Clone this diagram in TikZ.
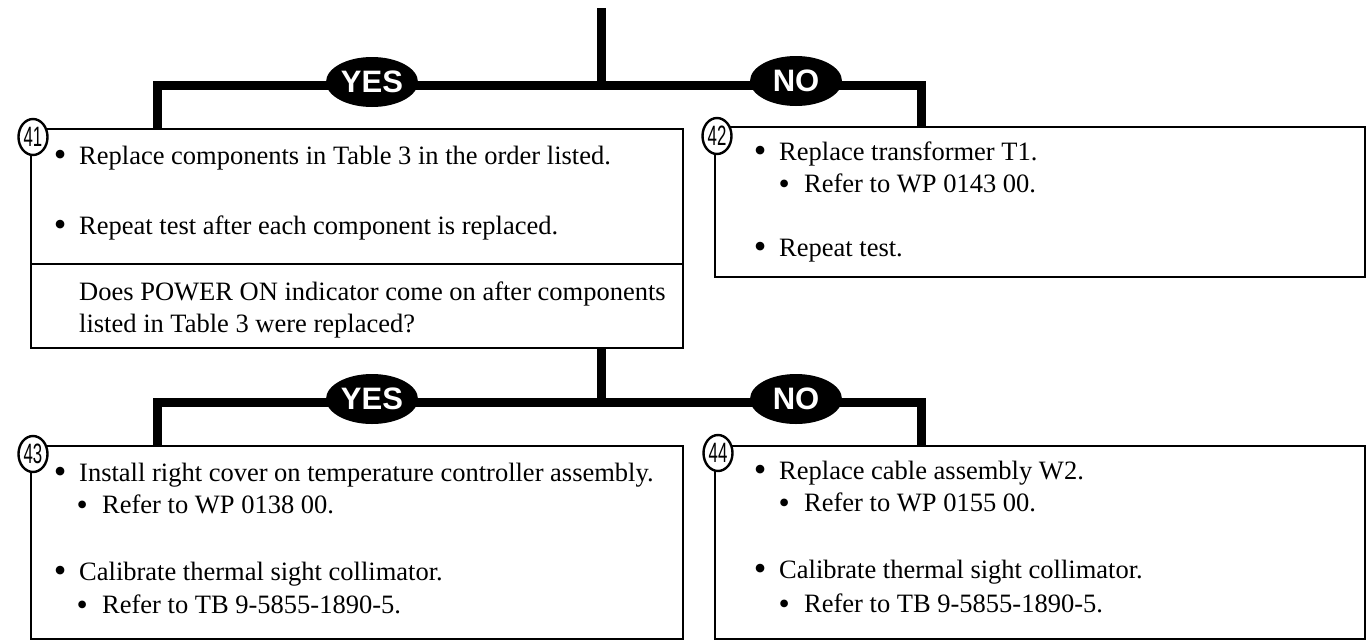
\documentclass[tikz,border=0pt]{standalone}
\usepackage{fontspec}
\setmainfont{Liberation Serif}
\newfontfamily\labelfont{Liberation Sans}
\newfontfamily\numfont[FakeStretch=0.6]{Liberation Sans}
\usetikzlibrary{shapes.geometric,calc}
\newcommand{\itembul}{\makebox[25.3pt][l]{\raisebox{-2.5pt}{\fontsize{36}{36}\selectfont\textbullet}}}
\newcommand{\subbul}{\makebox[25.6pt][l]{\raisebox{-2pt}{\fontsize{32}{32}\selectfont\textbullet}}}

\begin{document}
\begin{tikzpicture}[x=1pt, y=-1pt,
  every node/.style={font=\fontsize{26.5}{31}\selectfont},
  box/.style={draw, line width=2.4pt, fill=white, anchor=north west, inner sep=0pt, outer sep=0pt},
  txt/.style={anchor=base west, inner sep=0pt},
  flow/.style={line width=9pt},
  answer/.style={ellipse, fill=black, text=white, minimum width=92pt, minimum height=50pt, inner sep=0pt, font=\labelfont\bfseries\fontsize{31}{31}\selectfont},
  stepnum/.style={ellipse, draw, line width=2.4pt, fill=white, minimum width=29pt, minimum height=36pt, inner sep=0pt, font=\numfont\fontsize{28}{28}\selectfont}]
  \useasboundingbox (0,0) rectangle (1369,641);

  % step boxes
  \node[box, minimum width=652pt, minimum height=135pt] (b41) at (31,129) {};
  \node[box, minimum width=652pt, minimum height=84pt] (q41) at (31,264) {};
  \node[box, minimum width=650pt, minimum height=150pt] (b42) at (715,127) {};
  \node[box, minimum width=652pt, minimum height=193pt] (b43) at (31,446) {};
  \node[box, minimum width=650pt, minimum height=193pt] (b44) at (715,446) {};

  % flow lines
  \coordinate (start) at (601,8);
  \coordinate (j1) at (601,85);
  \coordinate (j2) at (601,402);
  \draw[flow] (start) -- (j1);
  \draw[flow] (j1) -| ($(b41.north west)+(126,0)$);
  \draw[flow] (j1) -| ($(b42.north west)+(206,0)$);
  \draw[flow] ($(q41.south west)+(570,0)$) -- (j2);
  \draw[flow] (j2) -| ($(b43.north west)+(126,0)$);
  \draw[flow] (j2) -| ($(b44.north west)+(206,0)$);

  % answers
  \node[answer] (yes1) at (372,82) {YES};
  \node[answer] (no1) at (796,81) {NO};
  \node[answer] (yes2) at (372,399) {YES};
  \node[answer] (no2) at (796,399) {NO};

  % step 41
  \node[txt] (t41a) at (53.7,164) {\itembul Replace components in Table 3 in the order listed.};
  \node[txt] (t41b) at (53.7,234) {\itembul Repeat test after each component is replaced.};
  \node[txt] (t41c) at (79,300) {Does POWER ON indicator come on after components};
  \node[txt] (t41d) at (79,332) {listed in Table 3 were replaced?};

  % step 42
  \node[txt] (t42a) at (753.7,160) {\itembul Replace transformer T1.};
  \node[txt] (t42b) at (778.4,192) {\subbul Refer to WP 0143 00.};
  \node[txt] (t42c) at (753.7,256) {\itembul Repeat test.};

  % step 43
  \node[txt] (t43a) at (53.7,481) {\itembul Install right cover on temperature controller assembly.};
  \node[txt] (t43b) at (76.4,513) {\subbul Refer to WP 0138 00.};
  \node[txt] (t43c) at (53.7,580) {\itembul Calibrate thermal sight collimator.};
  \node[txt] (t43d) at (76.4,613) {\subbul Refer to TB 9-5855-1890-5.};

  % step 44
  \node[txt] (t44a) at (753.7,479) {\itembul Replace cable assembly W2.};
  \node[txt] (t44b) at (778.4,511) {\subbul Refer to WP 0155 00.};
  \node[txt] (t44c) at (753.7,578) {\itembul Calibrate thermal sight collimator.};
  \node[txt] (t44d) at (778.4,612) {\subbul Refer to TB 9-5855-1890-5.};

  % step numbers
  \node[stepnum] (n41) at (33,137) {41};
  \node[stepnum] (n42) at (717,136) {42};
  \node[stepnum] (n43) at (33,454) {43};
  \node[stepnum] (n44) at (718,453) {44};
\end{tikzpicture}
\end{document}
